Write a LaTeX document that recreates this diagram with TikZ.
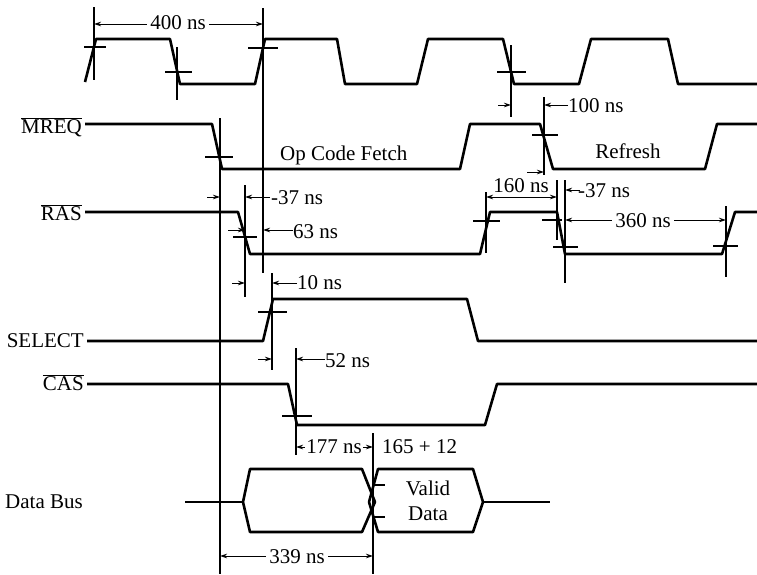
\documentclass[tikz,border=0pt]{standalone}
\usepackage{fontspec}
\setmainfont{Liberation Serif}
\usetikzlibrary{arrows.meta}

\begin{document}
\begin{tikzpicture}[
    x=1pt, y=-1pt,
    sig/.style={line width=2.6pt, line join=round},
    guide/.style={line width=1.3pt},
    dim/.style={line width=1pt, -{Stealth[length=7pt,width=4.5pt]}},
    dimboth/.style={line width=1pt, {Stealth[length=7pt,width=4.5pt]}-{Stealth[length=7pt,width=4.5pt]}},
    lbl/.style={font=\fontsize{21}{24}\selectfont, inner sep=0pt},
    gap/.style={lbl, fill=white, inner xsep=3pt}
]
\useasboundingbox (0,0) rectangle (757,574);

% signal names
\node[lbl,anchor=base east] (mreq) at (82,133) {$\overline{\hbox{MREQ}}$};
\node[lbl,anchor=base east] (ras) at (82,220) {$\overline{\hbox{RAS}}$};
\node[lbl,anchor=base east] (sel) at (84,347) {SELECT};
\node[lbl,anchor=base east] (cas) at (84,390) {$\overline{\hbox{CAS}}$};
\node[lbl,anchor=base west] (bus) at (5,508) {Data Bus};

% waveforms
\draw[sig] (85,82) -- (96,39) -- (170,39) -- (180,84) -- (255,84) -- (265,39) -- (337,39)
    -- (345,84) -- (417,84) -- (428,39) -- (503,39) -- (514,84) -- (579,84) -- (591,39)
    -- (668,39) -- (678,84) -- (757,84);
\draw[sig] (mreq.east |- 0,124) ++(3,0) -- (212,124) -- (222,169) -- (460,169) -- (470,124)
    -- (540,124) -- (553,169) -- (705,169) -- (717,124) -- (757,124);
\draw[sig] (ras.east |- 0,212) ++(3,0) -- (238,212) -- (250,254) -- (480,254) -- (490,212)
    -- (557,212) -- (565,254) -- (722,254) -- (735,212) -- (757,212);
\draw[sig] (sel.east |- 0,341) ++(3,0) -- (263,341) -- (273,299) -- (467,299) -- (478,341) -- (757,341);
\draw[sig] (cas.east |- 0,384) ++(3,0) -- (288,384) -- (297,425) -- (485,425) -- (497,384) -- (757,384);
% data bus
\draw[sig] (185,502) -- (243,502);
\draw[sig] (243,502) -- (250,469) -- (362,469) -- (375,502) -- (362,532) -- (250,532) -- cycle;
\draw[sig] (369,502) -- (378,469) -- (473,469) -- (483,502) -- (473,532) -- (378,532) -- cycle;
\draw[sig] (483,502) -- (550,502);

% reference lines
\foreach \x/\a/\b in {94/7/80, 177/47/100, 263/8/273, 511/45/117, 544/97/175,
    220/118/574, 245/185/297, 272/273/370, 296/348/455, 373/433/574,
    486/192/253, 557/180/240, 565/180/283, 726/206/277}
  \draw[guide] (\x,\a) -- (\x,\b);

% crossing marks
\foreach \a/\b/\y in {84/106/47, 165/192/72, 248/278/48, 497/526/72,
    205/233/157, 532/558/135, 233/257/237, 473/500/221, 542/562/220,
    553/578/247, 713/738/246, 258/287/312, 282/312/416, 373/385/485, 373/385/517}
  \draw[guide] (\a,\y) -- (\b,\y);

% timing values
\draw[dimboth] (94,24) -- (263,24);
\node[gap,anchor=base] (t400) at (178,29) {400 ns};

\draw[dim] (498,105) -- (511,105);
\draw[dim] (568,105) -- (544,105);
\node[lbl,anchor=base west] (t100) at (568,112) {100 ns};

\node[lbl,anchor=base west] (fetch) at (280,160) {Op Code Fetch};
\node[lbl,anchor=base] (refresh) at (628,158) {Refresh};

\draw[dim] (207,197) -- (220,197);
\draw[dim] (270,197) -- (245,197);
\node[lbl,anchor=base west] (t37a) at (271,204) {-37 ns};

\draw[dim] (228,230) -- (245,230);
\draw[dim] (293,230) -- (263,230);
\node[lbl,anchor=base west] (t63) at (293,238) {63 ns};

\draw[dim] (232,283) -- (245,283);
\draw[dim] (297,283) -- (272,283);
\node[lbl,anchor=base west] (t10) at (297,289) {10 ns};

\draw[dim] (258,359) -- (272,359);
\draw[dim] (325,359) -- (296,359);
\node[lbl,anchor=base west] (t52) at (325,367) {52 ns};

\draw[dimboth] (486,197) -- (557,197);
\node[lbl,anchor=base] (t160) at (521,192) {160 ns};

\draw[dim] (527,172) -- (544,172);
\draw[dim] (580,190) -- (565,190);
\node[lbl,anchor=base west] (t37b) at (578,197) {-37 ns};

\draw[dimboth] (565,220) -- (726,220);
\node[gap,anchor=base] (t360) at (643,227) {360 ns};

\draw[dimboth] (296,447) -- (373,447);
\node[gap,anchor=base,inner xsep=1pt] (t177) at (334,453) {177 ns};
\node[lbl,anchor=base west] (t165) at (382,453) {165 + 12};

\node[lbl,anchor=base] (valid) at (428,495) {Valid};
\node[lbl,anchor=base] (data) at (428,520) {Data};

\draw[dimboth] (220,556) -- (373,556);
\node[gap,anchor=base] (t339) at (297,563) {339 ns};
\end{tikzpicture}
\end{document}
